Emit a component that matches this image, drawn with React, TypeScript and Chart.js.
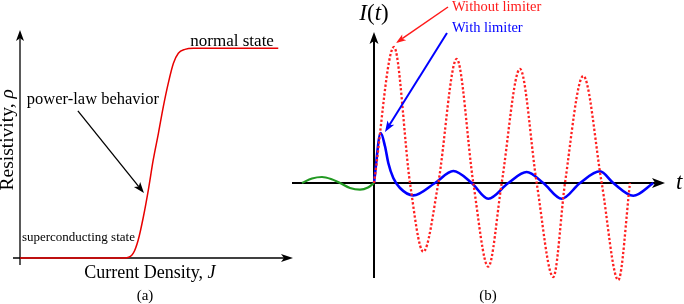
import React, { useEffect, useRef } from 'react';
import { Chart, registerables } from 'chart.js';

Chart.register(...registerables);

// ---------- Panel (a): resistivity vs current density ----------
const densityJ = [0, 36.6, 39.1, 41.5, 43.3, 45.2, 47.0, 48.8, 50.7, 52.5, 54.3, 56.2, 58.0, 60.4, 63.5, 94.6];
const resistivity = [0, 0, 0.1, 2.1, 7.9, 18.1, 29.8, 43.0, 54.7, 66.4, 76.6, 85.4, 89.8, 91.5, 92.0, 92.0];

// ---------- Panel (b): fault current vs time ----------
const preFaultT = [-7.2, -6.2, -5.2, -4.3, -3.4, -2.4, -1.4, -0.6, 0];
const preFaultI = [0, 0.45, 0.6, 0.4, 0, -0.5, -0.67, -0.45, 0];

const noLimiterT = [0, 2.0, 3.6, 4.93, 6.43, 8.27, 9.93, 11.43, 12.77, 14.6, 16.27, 17.93, 19.1, 20.93, 22.77, 24.43, 25.6];
const noLimiterI = [0, 13.6, 0, -6.87, 0, 12.4, 0, -8.37, 0, 11.4, 0, -9.4, 0, 10.7, 0, -9.7, 0];

const withLimiterT = [0, 0.67, 1.1, 1.43, 1.93, 2.6, 3.93, 6.1, 7.93, 9.77, 11.43, 13.43, 15.27, 16.93, 18.77, 20.6, 22.6, 23.93, 25.93, 27.93];
const withLimiterI = [0, 5.0, 3.67, 2.0, 0.5, -0.5, -1.24, 0, 1.2, 0, -1.57, 0, 1.1, 0, -1.57, 0, 1.17, 0, -1.27, 0];

const SERIF = "'Liberation Serif', 'Times New Roman', serif";

type Seg = { text: string; italic?: boolean };

function pts(xs: number[], ys: number[]) {
  return xs.map((x, i) => ({ x, y: ys[i] }));
}

function drawRich(ctx: CanvasRenderingContext2D, segs: Seg[], x: number, y: number, size: number, color: string, align: 'left' | 'center', baseline: CanvasTextBaseline = 'alphabetic') {
  const widths = segs.map((s) => {
    ctx.font = `${s.italic ? 'italic ' : ''}${size}px ${SERIF}`;
    return ctx.measureText(s.text).width;
  });
  const total = widths.reduce((a, b) => a + b, 0);
  let cx = align === 'center' ? x - total / 2 : x;
  ctx.fillStyle = color;
  ctx.textAlign = 'left';
  ctx.textBaseline = baseline;
  segs.forEach((s, i) => {
    ctx.font = `${s.italic ? 'italic ' : ''}${size}px ${SERIF}`;
    ctx.fillText(s.text, cx, y);
    cx += widths[i];
  });
}

function arrow(ctx: CanvasRenderingContext2D, x1: number, y1: number, x2: number, y2: number, color: string, width: number, headLen: number, headW: number) {
  const ang = Math.atan2(y2 - y1, x2 - x1);
  const c = Math.cos(ang), s = Math.sin(ang);
  const bx = x2 - headLen * c, by = y2 - headLen * s;
  const ix = x2 - headLen * 0.75 * c, iy = y2 - headLen * 0.75 * s;
  ctx.save();
  ctx.strokeStyle = color;
  ctx.lineWidth = width;
  ctx.lineCap = 'butt';
  ctx.beginPath();
  ctx.moveTo(x1, y1);
  ctx.lineTo(ix, iy);
  ctx.stroke();
  ctx.fillStyle = color;
  ctx.beginPath();
  ctx.moveTo(x2, y2);
  ctx.lineTo(bx + (headW / 2) * s, by - (headW / 2) * c);
  ctx.lineTo(ix, iy);
  ctx.lineTo(bx - (headW / 2) * s, by + (headW / 2) * c);
  ctx.closePath();
  ctx.fill();
  ctx.restore();
}

const panelAPlugin = {
  id: 'panelA',
  beforeDatasetsDraw(chart: any) {
    const { ctx, scales } = chart;
    const X = (v: number) => scales.x.getPixelForValue(v);
    const Y = (v: number) => scales.y.getPixelForValue(v);
    const x0 = X(0), y0 = Y(0);
    arrow(ctx, x0, y0 + 7, x0, Y(100), '#000', 1.3, 11, 8);
    arrow(ctx, x0 - 7, y0, X(100), y0, '#000', 1.3, 12, 8);
  },
  afterDatasetsDraw(chart: any) {
    const { ctx, scales } = chart;
    const X = (v: number) => scales.x.getPixelForValue(v);
    const Y = (v: number) => scales.y.getPixelForValue(v);
    drawRich(ctx, [{ text: 'normal state' }], X(77.7), Y(93), 17, '#000', 'center');
    drawRich(ctx, [{ text: 'power-law behavior' }], X(26.7), Y(67.5), 16.5, '#000', 'center');
    arrow(ctx, X(21.2), Y(64.5), X(45.4), Y(28.5), '#000', 1.3, 11, 8);
    drawRich(ctx, [{ text: 'superconducting state' }], X(0.7), Y(7.5), 13, '#000', 'left');
    // y-axis title (rotated)
    ctx.save();
    ctx.translate(X(-4.4), Y(51.8));
    ctx.rotate(-Math.PI / 2);
    drawRich(ctx, [{ text: 'Resistivity, ' }, { text: 'ρ', italic: true }], 0, 0, 19.5, '#000', 'center', 'middle');
    ctx.restore();
    drawRich(ctx, [{ text: 'Current Density, ' }, { text: 'J', italic: true }], X(47.6), Y(-8.8), 18, '#000', 'center');
    drawRich(ctx, [{ text: '(a)' }], X(45.8), Y(-18.4), 15, '#000', 'center');
  },
};

const panelBPlugin = {
  id: 'panelB',
  beforeDatasetsDraw(chart: any) {
    const { ctx, scales } = chart;
    const X = (v: number) => scales.x.getPixelForValue(v);
    const Y = (v: number) => scales.y.getPixelForValue(v);
    const x0 = X(0), y0 = Y(0);
    arrow(ctx, x0, Y(-9.5), x0, Y(15.1), '#000', 2, 12, 9);
    arrow(ctx, X(-8.2), y0, X(29.1), y0, '#000', 2, 13, 10);
  },
  afterDatasetsDraw(chart: any) {
    const { ctx, scales } = chart;
    const X = (v: number) => scales.x.getPixelForValue(v);
    const Y = (v: number) => scales.y.getPixelForValue(v);
    drawRich(ctx, [{ text: 'I', italic: true }, { text: '(' }, { text: 't', italic: true }, { text: ')' }], X(0), Y(16.3), 23, '#000', 'center');
    drawRich(ctx, [{ text: 't', italic: true }], X(30.2), Y(-0.6), 23, '#000', 'left');
    drawRich(ctx, [{ text: 'Without limiter' }], X(7.8), Y(17.2), 14.5, '#ff1a1a', 'left');
    drawRich(ctx, [{ text: 'With limiter' }], X(7.8), Y(15.1), 14.5, '#0000ff', 'left');
    arrow(ctx, X(7.4), Y(17.6), X(2.2), Y(14.0), '#ff1a1a', 1.5, 10, 7);
    arrow(ctx, X(7.3), Y(15.0), X(1.1), Y(5.1), '#0000ff', 2, 11, 8);
    drawRich(ctx, [{ text: '(b)' }], X(11.4), Y(-11.7), 15, '#000', 'center');
  },
};

function baseOptions(padding: any, xMin: number, xMax: number, yMin: number, yMax: number) {
  return {
    animation: false as const,
    responsive: false,
    devicePixelRatio: 1,
    events: [] as any[],
    layout: { padding },
    scales: {
      x: { type: 'linear' as const, min: xMin, max: xMax, display: false },
      y: { type: 'linear' as const, min: yMin, max: yMax, display: false },
    },
    plugins: { legend: { display: false }, tooltip: { enabled: false } },
    elements: { point: { radius: 0 } },
  };
}

export default function App() {
  const refA = useRef<HTMLCanvasElement>(null);
  const refB = useRef<HTMLCanvasElement>(null);

  useEffect(() => {
    const chartA = new Chart(refA.current!, {
      type: 'line',
      data: {
        datasets: [
          {
            data: pts(densityJ, resistivity),
            borderColor: '#e80000',
            borderWidth: 1.5,
            cubicInterpolationMode: 'monotone',
            pointRadius: 0,
            fill: false,
            clip: false,
          } as any,
        ],
      },
      options: baseOptions({ left: 20, right: 7, top: 30, bottom: 46 }, 0, 100, 0, 100) as any,
      plugins: [panelAPlugin],
    });

    const chartB = new Chart(refB.current!, {
      type: 'line',
      data: {
        datasets: [
          {
            label: 'Without limiter',
            data: pts(noLimiterT, noLimiterI),
            borderColor: '#ff2020',
            borderWidth: 2.3,
            borderDash: [2.3, 2.1],
            cubicInterpolationMode: 'monotone',
            pointRadius: 0,
            fill: false,
            clip: false,
          } as any,
          {
            label: 'With limiter',
            data: pts(withLimiterT, withLimiterI),
            borderColor: '#0000ff',
            borderWidth: 2.6,
            cubicInterpolationMode: 'monotone',
            pointRadius: 0,
            fill: false,
            clip: false,
          } as any,
          {
            label: 'Pre-fault',
            data: pts(preFaultT, preFaultI),
            borderColor: '#229922',
            borderWidth: 2.2,
            cubicInterpolationMode: 'monotone',
            pointRadius: 0,
            fill: false,
            clip: false,
          } as any,
        ],
      },
      options: baseOptions({ left: 12, right: 19, top: 32, bottom: 24 }, -7.2, 29.1, -9.7, 15.1) as any,
      plugins: [panelBPlugin],
    });

    return () => {
      chartA.destroy();
      chartB.destroy();
    };
  }, []);

  return (
    <div style={{ position: 'fixed', left: 0, top: 0, width: 684, height: 304, background: '#fff', overflow: 'hidden' }}>
      <canvas ref={refA} width={300} height={304} style={{ position: 'absolute', left: 0, top: 0, width: 300, height: 304 }} />
      <canvas ref={refB} width={394} height={304} style={{ position: 'absolute', left: 290, top: 0, width: 394, height: 304 }} />
    </div>
  );
}
